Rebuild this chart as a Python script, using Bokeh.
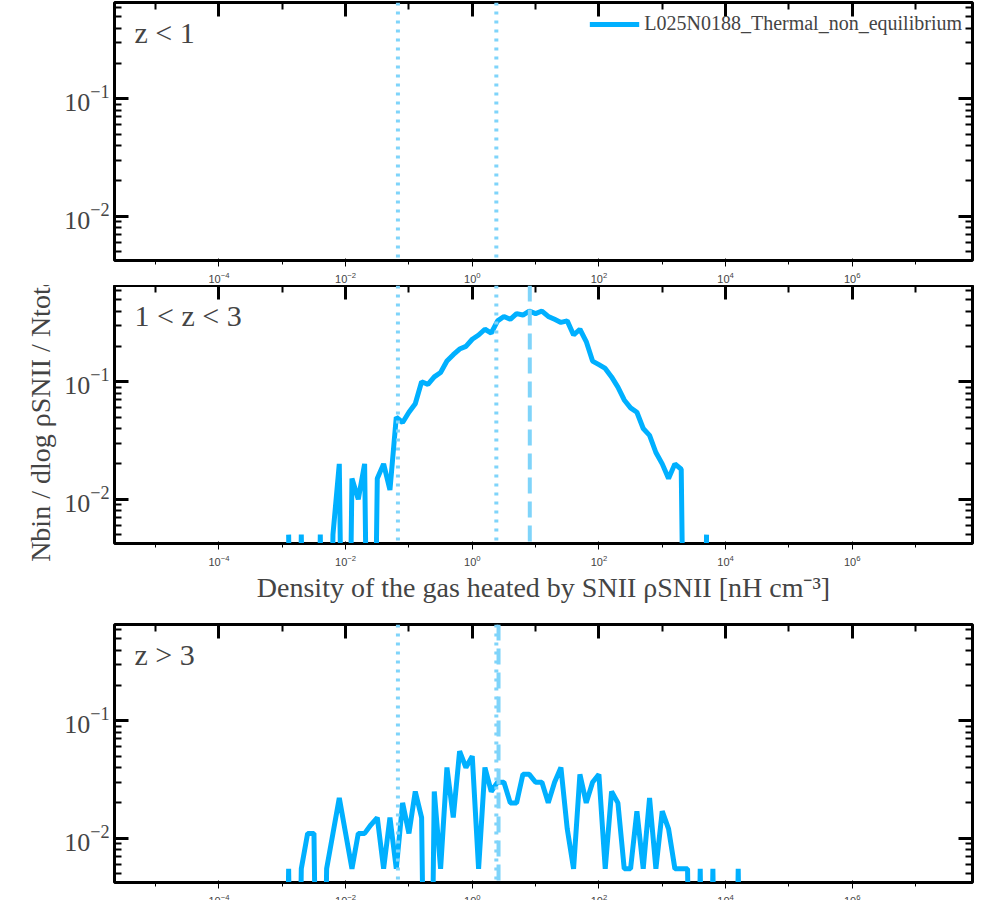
import numpy as np
from bokeh.plotting import figure
from bokeh.layouts import column
from bokeh.models import Span, Label, LogAxis, FixedTicker, Range1d, Legend, LegendItem, CustomJSTickFormatter
from bokeh.embed import file_html
from bokeh.resources import INLINE

# bin centres (log10 density), 0.1 dex bins
mid_logx = [round(-2.9 + 0.1 * i, 1) for i in range(67)]   # -2.9 .. 3.7
mid_vals = [0.005, 0, 0.005, 0, 0, 0.005, 0, 0.005, 0.02, 0, 0.015, 0.01, 0.02, 0, 0.015,
            0.02, 0.012, 0.05, 0.045, 0.055, 0.065, 0.1, 0.095, 0.11, 0.12, 0.15, 0.17,
            0.19, 0.2, 0.23, 0.25, 0.28, 0.26, 0.33, 0.36, 0.34, 0.38, 0.37, 0.4, 0.38,
            0.40, 0.36, 0.34, 0.32, 0.33, 0.25, 0.28, 0.22, 0.15, 0.14, 0.13, 0.11, 0.09,
            0.07, 0.06, 0.055, 0.04, 0.035, 0.025, 0.02, 0.015, 0.02, 0.018, 0, 0, 0, 0.005]
hi_logx = [round(-3.0 + 0.1 * i, 1) for i in range(74)]   # -3.0 .. 4.3
hi_vals = [0, 0.0055, 0, 0.0055, 0.011, 0.011, 0, 0.0055, 0.011, 0.022, 0.011, 0.0055,
           0.011, 0.011, 0.013, 0.015, 0.0055, 0.015, 0.0055, 0.02, 0.011, 0.025, 0.015,
           0, 0.025, 0.0055, 0.04, 0.015, 0.055, 0.04,
           0.05, 0.0055, 0.04, 0.025, 0.03, 0.03, 0.02, 0.02, 0.035, 0.035, 0.03, 0.03,
           0.02, 0.03, 0.04, 0.012, 0.0055, 0.035, 0.02, 0.03, 0.035, 0.0055, 0.025, 0.02,
           0.0055, 0.0055, 0.017, 0.0055, 0.022, 0.0055, 0.017, 0.012, 0.0055, 0.0055,
           0.0055, 0, 0.0055, 0, 0.0055, 0, 0, 0, 0.0055, 0]
low_vals = [0] * len(mid_logx)   # no data at z < 1
dotted_lines = [0.067, 2.4]
dashed_mid = 8.1
dashed_hi = 2.6
panel_labels = ["z < 1", "1 < z < 3", "z > 3"]
legend_name = "L025N0188_Thermal_non_equilibrium"

LINE = "#00b0ff"
LIGHT = "#7fd4fa"
FONT = "Liberation Serif"
FLOOR = 1e-6

def fix(v):
    return [x if x > 0 else FLOOR for x in v]

def make(idx, xs, ys, dashed, bottom):
    p = figure(x_axis_type="log", y_axis_type="log", frame_width=858, frame_height=258,
               output_backend="svg", toolbar_location=None,
               x_range=Range1d(10**-5.65, 10**7.9), y_range=Range1d(0.0042, 0.66),
               min_border_left=114, min_border_right=4,
               min_border_top=2 if idx == 0 else 0, min_border_bottom=0 if not bottom else 10)
    p.grid.visible = False
    p.outline_line_color = "black"
    p.outline_line_width = 3
    p.background_fill_color = "white"
    p.border_fill_color = "white"
    for d in dotted_lines:
        p.add_layout(Span(location=d, dimension="height", line_color=LIGHT,
                          line_width=4, line_dash="3 6"))
    if dashed is not None:
        p.add_layout(Span(location=dashed, dimension="height", line_color=LIGHT,
                          line_width=4, line_dash="16 8"))
    r = p.line([10**x for x in xs], fix(ys), line_color=LINE, line_width=5)
    xt = FixedTicker(ticks=[1e-4, 1e-2, 1, 1e2, 1e4, 1e6],
                     minor_ticks=[10.0**k for k in range(-6, 9)])
    yt = FixedTicker(ticks=[1e-2, 1e-1], minor_ticks=[k * 10.0**e for e in (-3, -2, -1) for k in range(1, 10)])
    p.xaxis.ticker = xt
    p.yaxis.ticker = yt
    blank = CustomJSTickFormatter(code="return ''")
    ax2 = LogAxis(ticker=xt, formatter=blank, major_label_standoff=0)
    ay2 = LogAxis(ticker=yt, formatter=blank, major_label_standoff=0)
    p.add_layout(ax2, "above")
    p.add_layout(ay2, "right")
    for a in [p.xaxis[0], p.yaxis[0], ax2, ay2]:
        a.axis_line_color = None
        a.major_tick_in = 14
        a.major_tick_out = 0
        a.minor_tick_in = 7
        a.minor_tick_out = 0
        a.major_tick_line_width = 3
        a.minor_tick_line_width = 2
        a.major_label_text_font = FONT
        a.axis_label_text_font = FONT
        a.axis_label_text_font_style = "normal"
    p.yaxis[0].major_label_text_font_size = "26px"
    p.xaxis[0].major_label_text_font_size = "26px"
    if not bottom:
        p.xaxis[0].formatter = CustomJSTickFormatter(code="return ''")
        p.xaxis[0].major_label_standoff = 0
    else:
        p.xaxis[0].axis_label = "Density of the gas heated by SNII ρSNII [nH cm⁻³]"
        p.xaxis[0].axis_label_text_font_size = "28px"
        p.xaxis[0].major_label_standoff = 14
        p.xaxis[0].axis_label_standoff = 22
    if idx == 1:
        p.yaxis[0].axis_label = "Nbin / dlog ρSNII / Ntotal"
        p.yaxis[0].axis_label_text_font_size = "28px"
    p.add_layout(Label(x=20, y=212, x_units="screen", y_units="screen",
                       text=panel_labels[idx], text_font=FONT, text_font_size="30px"))
    return p, r

p1, r1 = make(0, mid_logx, low_vals, None, False)
leg = Legend(items=[LegendItem(label=legend_name, renderers=[r1])], location="top_right",
             border_line_color=None, background_fill_alpha=0, label_text_font=FONT,
             label_text_font_size="20px", glyph_width=50, margin=10)
p1.add_layout(leg)
p2, _ = make(1, mid_logx, mid_vals, dashed_mid, False)
p3, _ = make(2, hi_logx, hi_vals, dashed_hi, True)
layout = column(p1, p2, p3, spacing=0)
open("out.html", "w").write(file_html(layout, INLINE))
